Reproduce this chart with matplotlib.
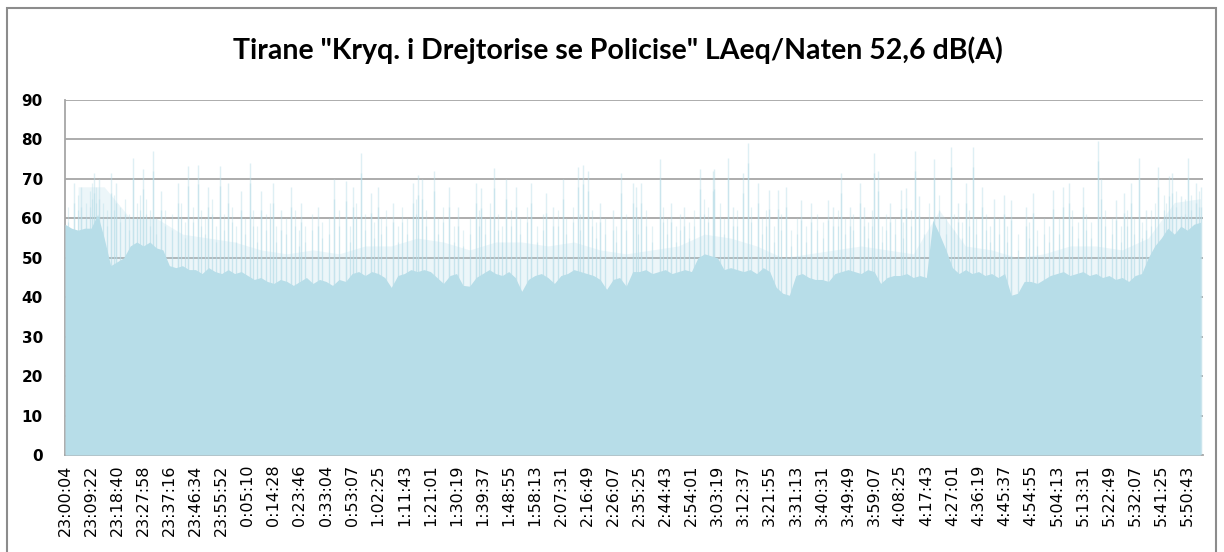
import matplotlib
matplotlib.use("Agg")
import matplotlib.pyplot as plt
from matplotlib.patches import Rectangle
import numpy as np

title = 'Tirane "Kryq. i Drejtorise se Policise" LAeq/Naten 52,6 dB(A)'

tick_labels = ["23:00:04", "23:09:22", "23:18:40", "23:27:58", "23:37:16", "23:46:34",
               "23:55:52", "0:05:10", "0:14:28", "0:23:46", "0:33:04", "0:53:07",
               "1:02:25", "1:11:43", "1:21:01", "1:30:19", "1:39:37", "1:48:55",
               "1:58:13", "2:07:31", "2:16:49", "2:26:07", "2:35:25", "2:44:43",
               "2:54:01", "3:03:19", "3:12:37", "3:21:55", "3:31:13", "3:40:31",
               "3:49:49", "3:59:07", "4:08:25", "4:17:43", "4:27:01", "4:36:19",
               "4:45:37", "4:54:55", "5:04:13", "5:13:31", "5:22:49", "5:32:07",
               "5:41:25", "5:50:43"]

# solid part of the level, read every quarter of a label step
base = [58.5, 57.5, 57, 57.5,  57.5, 61, 55, 48,  49, 50, 53, 54,  53, 54, 52.5, 52,
        48, 47.5, 48, 47,  47, 46, 47.5, 46.5,  46, 47, 46, 46.5,  45.5, 44.5, 45, 44,
        43.5, 44.5, 44, 43,  44, 45, 43.5, 44.5,  44, 43, 44.5, 44,  46, 46.5, 45.5, 46.5,
        46, 45, 42.5, 45.5,  46, 47, 46.5, 47,  46.5, 45, 43.5, 45.5,  46, 43, 42.8, 45,
        46, 47, 46, 45.5,  46.5, 45, 41.5, 44.5,  45.5, 46, 45, 43.5,  45.5, 46, 47, 46.5,
        46, 45.5, 44.5, 42,  44.5, 45, 42.8, 46.5,  46.5, 47, 46, 46.5,  47, 46, 46.5, 47,
        46.5, 50, 51, 50.5,  50, 47, 47.5, 47,  46.5, 47, 46, 47.5,  46.5, 42.5, 41, 40.5,
        45.5, 46, 45, 44.5,  44.5, 44, 46, 46.5,  47, 46.5, 46, 47,  46.5, 43.5, 45, 45.5,
        45.5, 46, 45, 45.5,  45, 59.5, 56, 52,  47.5, 46, 47, 46,  46.5, 45.5, 46, 45,
        46, 40.5, 41, 44,  44, 43.5, 44.5, 45.5,  46, 46.5, 45.5, 46,  46.5, 45.5, 46, 45,
        45.5, 44.5, 45, 44,  45.5, 46, 50, 53,  55, 57.5, 56, 58,  57, 58.5, 59]

# top of the dense pale band, one value per label step
haze = [68, 68, 60, 60, 56, 55, 54, 52, 51, 52, 51, 53, 53, 55, 54, 52, 54, 54, 53, 54,
        52, 51, 52, 53, 56, 55, 53, 50, 51, 52, 53, 52, 51, 62, 53, 52, 50, 51, 53, 53,
        52, 55, 64, 65]

# tall peaks: position in label steps and level in dB
spike_pos = [0.36, 0.62, 1.13, 1.32, 1.77, 1.96, 2.6, 2.98, 3.39, 3.68, 4.32, 4.7, 5.09,
             5.47, 5.92, 6.24, 6.75, 7.07, 7.51, 7.96, 8.28, 8.66, 9.05, 9.68, 10.32, 10.77,
             11.03, 11.34, 11.73, 11.98, 12.56, 13.32, 13.52, 13.68, 14.15, 14.73, 15.05,
             15.75, 15.94, 16.45, 16.9, 17.28, 17.86, 18.43, 18.69, 19.07, 19.65, 19.84,
             20.03, 20.48, 20.99, 21.31, 21.75, 21.88, 22.07, 22.78, 23.22, 23.73, 24.31,
             24.82, 24.88, 25.39, 25.59, 25.97, 26.16, 26.54, 26.99, 27.31, 27.63, 28.2,
             28.59, 29.22, 29.42, 29.74, 30.06, 30.44, 30.63, 31.01, 31.14, 31.59, 32.03,
             32.23, 32.55, 32.73, 33.3, 33.94, 34.2, 34.52, 34.77, 35.15, 35.6, 35.98,
             36.24, 36.81, 37.07, 37.84, 38.22, 38.47, 38.99, 39.56, 39.69, 40.26, 40.58,
             40.84, 41.16, 41.41, 41.86, 42.31, 42.43, 42.75, 43.01, 43.33, 43.52]
spike_val = [69, 68, 71.5, 70, 71.5, 69, 75.3, 72.4, 77, 67, 69, 73.2, 73.6,
             68, 73.2, 69, 67, 74, 67, 69, 62, 68, 64, 63, 70, 69.4,
             68, 76.6, 66.4, 68, 64, 69, 71, 70, 72, 68, 63,
             69, 67.7, 72.8, 70, 68, 69, 66.4, 63, 70, 73, 73.6,
             72, 64, 62, 71.5, 69, 68, 69, 75, 64, 63, 72.4,
             72, 72.4, 75.3, 63, 71.5, 79, 69, 67.3, 67.3, 68, 64.7,
             64, 64.7, 63, 71.5, 63, 69, 63, 76.6, 72, 64, 67.3,
             67.7, 77, 65.6, 75, 78, 64, 69, 78, 68, 65, 66,
             64.7, 63, 66.4, 67.3, 68, 69, 68, 79.6, 70, 64.7, 66.4,
             69, 75.3, 62, 73, 70.7, 71.5, 65.6, 75.3, 69, 68]

# smaller peaks between them
minor_pos = [0.1, 0.5, 0.8, 0.95, 1.05, 1.2, 1.45, 1.6, 1.88, 2.1, 2.3, 2.45, 2.75, 2.88,
             3.1, 3.25, 3.5, 3.85, 4.1, 4.45, 4.6, 4.9, 5.2, 5.35, 5.65, 5.8, 6.1, 6.4,
             6.55, 6.9, 7.2, 7.35, 7.7, 7.85, 8.1, 8.45, 8.8, 8.95, 9.2, 9.45, 9.85, 10.1,
             10.5, 10.9, 11.15, 11.5, 11.85, 12.1, 12.3, 12.75, 12.9, 13.1, 13.45, 13.85,
             14.3, 14.5, 14.9, 15.25, 15.5, 15.85, 16.1, 16.3, 16.6, 16.75, 17.1, 17.45,
             17.7, 18.1, 18.3, 18.9, 19.2, 19.45, 19.75, 20.2, 20.35, 20.7, 21.1, 21.5,
             21.95, 22.25, 22.5, 22.9, 23.05, 23.4, 23.55, 23.9, 24.1, 24.5, 24.65, 25.1,
             25.25, 25.75, 26.3, 26.7, 26.85, 27.15, 27.45, 27.8, 28.05, 28.4, 28.8, 29.05,
             29.6, 29.9, 30.2, 30.75, 30.9, 31.3, 31.45, 31.8, 32.1, 32.4, 32.9, 33.1, 33.5,
             33.75, 34.05, 34.35, 34.65, 34.9, 35.3, 35.45, 35.8, 36.1, 36.5, 36.95, 37.25,
             37.5, 37.7, 38.1, 38.6, 38.8, 39.1, 39.3, 39.85, 40.1, 40.45, 40.7, 40.95,
             41.25, 41.6, 41.75, 42.1, 42.2, 42.55, 42.9, 43.15, 43.45]
minor_val = [63, 66, 64, 67, 69, 68, 64, 62, 66, 63, 65, 61, 64, 66,
             65, 62, 60, 62, 61, 64, 59, 63, 62, 60, 65, 58, 61, 63,
             58, 60, 62, 58, 61, 64, 58, 60, 62, 57, 58, 61, 59, 60,
             62, 58, 64, 61, 59, 60, 62, 58, 63, 60, 65, 62,
             60, 63, 58, 57, 60, 62, 60, 64, 61, 58, 62, 60,
             63, 58, 61, 62, 60, 63, 61, 62, 59, 60, 58, 61,
             60, 62, 58, 63, 60, 58, 61, 59, 62, 65, 63, 64,
             60, 62, 63, 60, 62, 58, 61, 57, 60, 58, 61, 59,
             62, 60, 61, 59, 62, 58, 61, 60, 59, 62, 60, 64, 66,
             60, 61, 59, 62, 60, 61, 58, 60, 58, 56, 59, 57,
             60, 58, 60, 62, 59, 61, 59, 62, 60, 58, 62, 60,
             59, 62, 64, 66, 64, 67, 65, 66, 67]

fill_col = "#b7dde8"
grid_col = "#a6a6a6"

fig = plt.figure(figsize=(12.24, 5.52), dpi=100)
ax = fig.add_axes([65 / 1224, 1 - 455 / 552, (1203 - 65) / 1224, 355 / 552])

x_base = np.arange(len(base)) * 0.25
x_haze = np.arange(len(haze)) + 0.5
spike_val = np.array(spike_val)
minor_val = np.array(minor_val)

ax.fill_between(x_haze, 0, haze, color=fill_col, alpha=0.25, lw=0, zorder=2)
# pale tips, stronger lower part
ax.vlines(spike_pos, 0, spike_val, color=fill_col, lw=1.0, alpha=0.45, zorder=3)
ax.vlines(spike_pos, 0, spike_val - 5, color=fill_col, lw=1.0, alpha=0.5, zorder=3)
ax.vlines(minor_pos, 0, minor_val, color=fill_col, lw=0.9, alpha=0.4, zorder=3)
ax.vlines(minor_pos, 0, minor_val - 4, color=fill_col, lw=0.9, alpha=0.45, zorder=3)
ax.fill_between(x_base, 0, base, color=fill_col, lw=0, zorder=4)

ax.set_xlim(0, 43.6)
ax.set_ylim(0, 90)
ax.set_yticks(range(0, 91, 10))
ax.set_xticks(range(len(tick_labels)))
ax.set_xticklabels(tick_labels, rotation=90, fontsize=11.5, family="DejaVu Sans")
for lab in ax.get_yticklabels():
    lab.set_fontweight("bold")
    lab.set_fontsize(11)
ax.tick_params(axis="both", length=0)
ax.tick_params(axis="x", pad=7)
ax.tick_params(axis="y", pad=16)
ax.yaxis.grid(True, color=grid_col, lw=1.3, zorder=1)
ax.set_axisbelow(True)
for s in ["top", "right"]:
    ax.spines[s].set_visible(False)
for s in ["left", "bottom"]:
    ax.spines[s].set_color(grid_col)
    ax.spines[s].set_linewidth(1.3)

fig.text(618 / 1224, 1 - 50 / 552, title, ha="center", va="center",
         fontsize=20.5, fontweight="bold", family="Lato")

fig.patches.append(Rectangle((7 / 1224, -0.05), 1209 / 1224, 1.05 - 8 / 552,
                             transform=fig.transFigure, fill=False,
                             edgecolor="#8c8c8c", lw=1.5))

fig.savefig("out.png", dpi=100)
